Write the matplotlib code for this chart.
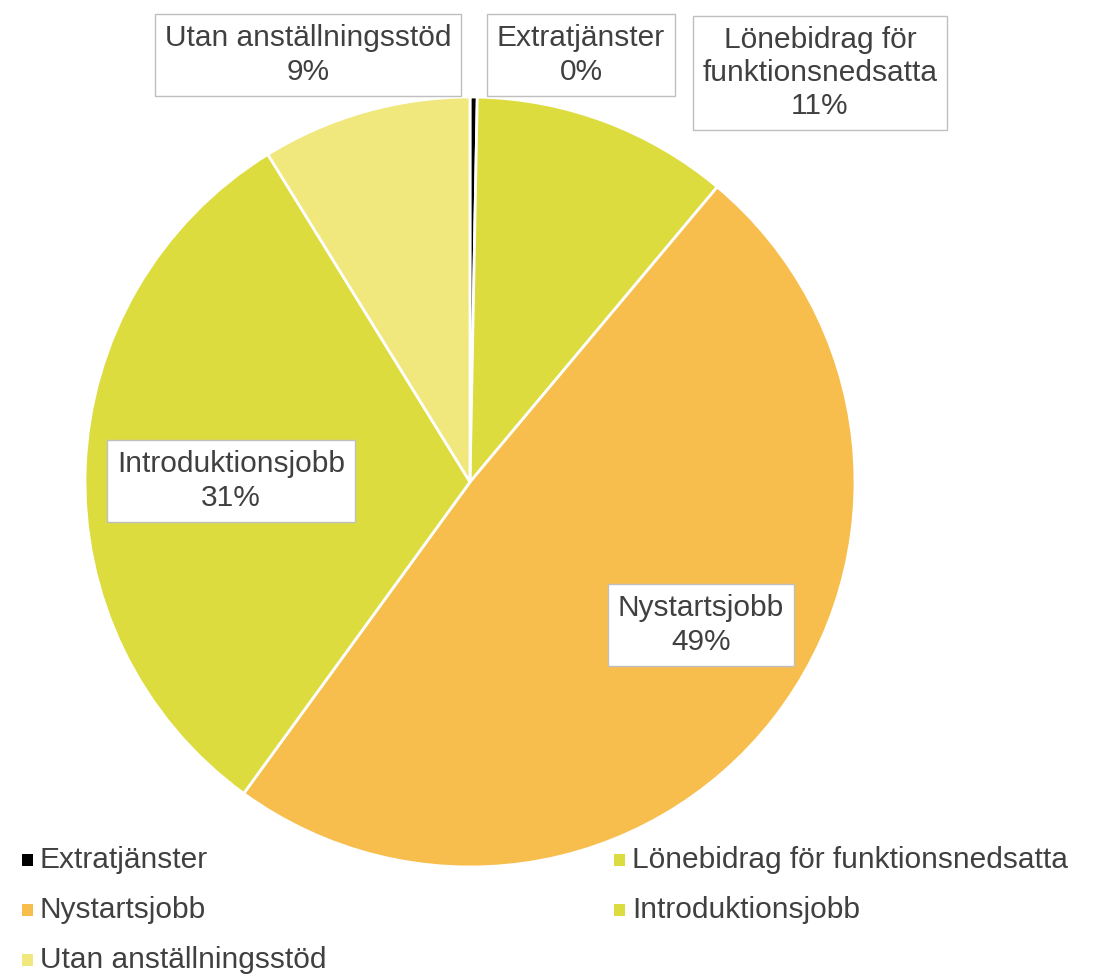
import matplotlib.pyplot as plt

plt.rcParams['font.family'] = ['Liberation Sans', 'DejaVu Sans']

categories = ["Extratjänster", "Lönebidrag för funktionsnedsatta", "Nystartsjobb",
              "Introduktionsjobb", "Utan anställningsstöd"]
values = [0.3, 10.8, 48.9, 31.2, 8.8]
pct_labels = ["0%", "11%", "49%", "31%", "9%"]
colors = ["#000000", "#DDDC3F", "#F7BE4E", "#DDDC3F", "#F0E87D"]
wrapped = ["Extratjänster", "Lönebidrag för\nfunktionsnedsatta", "Nystartsjobb",
           "Introduktionsjobb", "Utan anställningsstöd"]

W, H = 1094, 975
fig = plt.figure(figsize=(W / 100, H / 100), dpi=100)
ax = fig.add_axes([0, 0, 1, 1])

ax.pie(values, colors=colors, startangle=90, counterclock=False,
       center=(470, H - 482), radius=385,
       wedgeprops=dict(edgecolor="white", linewidth=2))
ax.set_xlim(0, W)
ax.set_ylim(0, H)
ax.set_aspect("equal")
ax.axis("off")

txt_color = "#404040"
fs = 21.5

# data label positions (pixel coords, from top)
label_pos = [(581, 55), (820, 73), (701, 625), (231, 481), (308, 55)]
for name, pct, (lx, ly) in zip(wrapped, pct_labels, label_pos):
    ax.text(lx, H - ly, name + "\n" + pct, ha="center", va="center",
            fontsize=fs, color=txt_color, linespacing=1.25,
            bbox=dict(boxstyle="square,pad=0.33", facecolor="white",
                      edgecolor="#BFBFBF", linewidth=1))

# legend, row-wise like the original
leg_pos = [(22, 860), (614, 860), (22, 910), (614, 910), (22, 960)]
for name, col, (px, py) in zip(categories, colors, leg_pos):
    ax.add_patch(plt.Rectangle((px, H - py - 6), 11, 12, facecolor=col,
                               edgecolor="none"))
    ax.text(px + 18, H - py, name, ha="left", va="center",
            fontsize=fs, color=txt_color)

fig.savefig("out.png", dpi=100)
